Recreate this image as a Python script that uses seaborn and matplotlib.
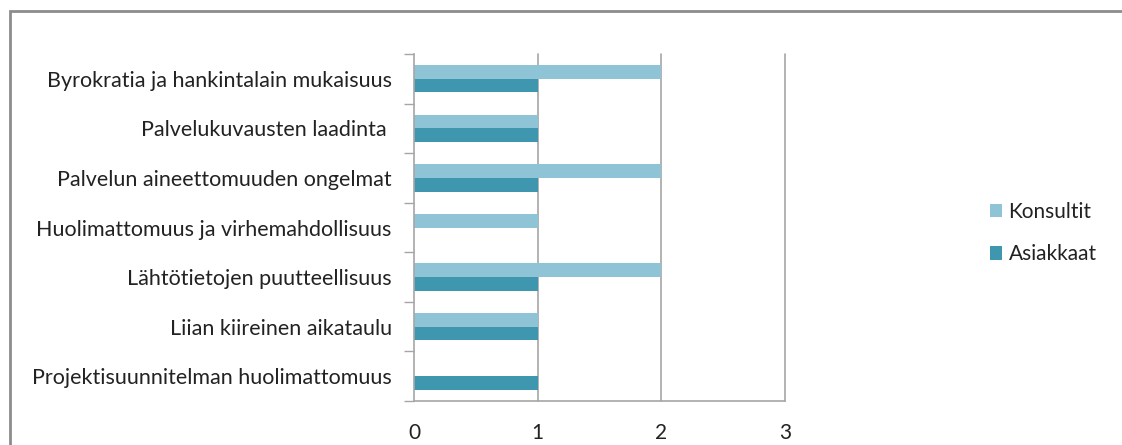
import matplotlib
matplotlib.use("Agg")
import matplotlib.pyplot as plt
from matplotlib.patches import Rectangle
import pandas as pd
import seaborn as sns

categories = [
    "Byrokratia ja hankintalain mukaisuus",
    "Palvelukuvausten laadinta ",
    "Palvelun aineettomuuden ongelmat",
    "Huolimattomuus ja virhemahdollisuus",
    "Lähtötietojen puutteellisuus",
    "Liian kiireinen aikataulu",
    "Projektisuunnitelman huolimattomuus",
]
series_names = ["Konsultit", "Asiakkaat"]
konsultit = [2, 1, 2, 1, 2, 1, 0]
asiakkaat = [1, 1, 1, 0, 1, 1, 1]
x_ticks = [0, 1, 2, 3]

colors = {"Konsultit": "#8EC4D5", "Asiakkaat": "#3E97AF"}
grid_color = "#A6A6A6"

df = pd.DataFrame({
    "Kategoria": categories * 2,
    "Sarja": [series_names[0]] * len(categories) + [series_names[1]] * len(categories),
    "Arvo": konsultit + asiakkaat,
})

sns.set_theme(style="white")
plt.rcParams["font.family"] = ["Lato", "DejaVu Sans"]

fig = plt.figure(figsize=(11.22, 4.45), dpi=100)
ax = fig.add_axes([414 / 1122, 1 - 401 / 445, (785 - 414) / 1122, (401 - 54) / 445])

sns.barplot(data=df, y="Kategoria", x="Arvo", hue="Sarja", hue_order=series_names,
            order=categories, palette=colors, orient="h", width=0.55,
            saturation=1, linewidth=0, ax=ax, legend=True)

ax.set_xlim(0, 3)
ax.set_ylim(len(categories) - 0.5, -0.5)
ax.set_xticks(x_ticks)
ax.set_xticklabels([str(t) for t in x_ticks], fontsize=15, color="#222222")
ax.set_xlabel("")
ax.set_ylabel("")
ax.tick_params(axis="y", length=0, pad=16, labelsize=15.5, labelcolor="#222222")
ax.tick_params(axis="x", length=7, width=1, color=grid_color, pad=9, direction="out")
ax.set_yticks([i - 0.5 for i in range(len(categories) + 1)], minor=True)
ax.tick_params(axis="y", which="minor", length=7, width=1, color=grid_color, left=True)

for v in x_ticks[1:]:
    ax.axvline(v, color=grid_color, lw=1.2, zorder=0, clip_on=False)

for side in ["top", "right"]:
    ax.spines[side].set_visible(False)
for side in ["left", "bottom"]:
    ax.spines[side].set_color(grid_color)
    ax.spines[side].set_linewidth(1.2)

handles, labels = ax.get_legend_handles_labels()
ax.get_legend().remove()
fig.legend(handles, labels, loc="center left", bbox_to_anchor=(971 / 1122, 1 - 233 / 445),
           frameon=False, fontsize=15, handlelength=0.6, handleheight=0.6,
           handletextpad=0.3, labelspacing=1.1, labelcolor="#222222")

fig.patches.append(Rectangle((10 / 1122, -0.05), 1.0, 1 - 11 / 445 + 0.05,
                             transform=fig.transFigure, fill=False,
                             edgecolor="#8C8C8C", linewidth=2, zorder=10))

fig.savefig("out.png", dpi=100)
